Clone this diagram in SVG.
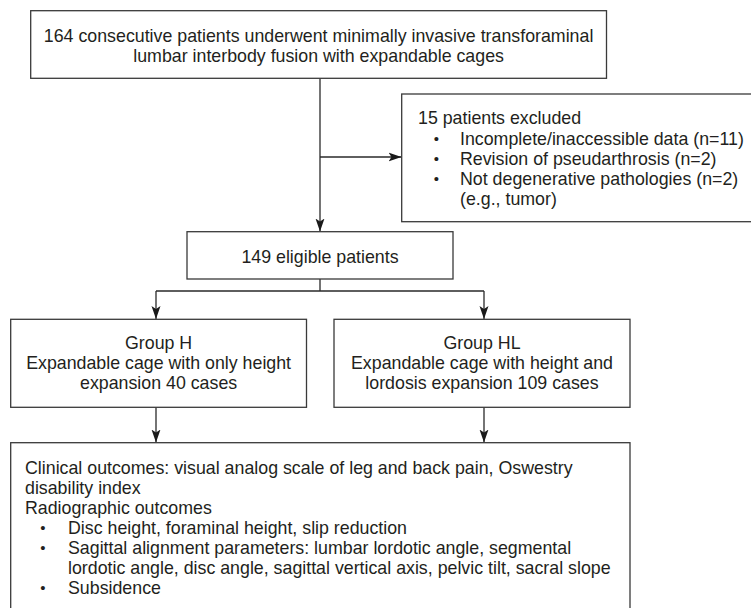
<svg xmlns="http://www.w3.org/2000/svg" width="751" height="608" viewBox="0 0 751 608">
<style>
.box{fill:#fff;stroke:#3a3a3a;stroke-width:1.3}
.t{font-family:"Liberation Sans",Arial,sans-serif;font-size:17.8px;fill:#231f20}
.c{text-anchor:middle}
.b{text-anchor:middle;font-size:15px}
.ln{fill:none;stroke:#2a2a2a;stroke-width:1.3}
</style>
<defs>
<marker id="ah" markerUnits="userSpaceOnUse" markerWidth="14" markerHeight="10" refX="13" refY="5" orient="auto">
<path d="M0,0.5 L13,5 L0,9.5 L3,5 Z" fill="#1a1a1a"/>
</marker>
</defs>
<rect width="751" height="608" fill="#fff"/>
<g id="connectors">
<path class="ln" d="M320,78.3 V231.5" marker-end="url(#ah)"/>
<path class="ln" d="M320,157 H401.5" marker-end="url(#ah)"/>
<path class="ln" d="M320,279 V291 M156,291 H484"/>
<path class="ln" d="M156,291 V319" marker-end="url(#ah)"/>
<path class="ln" d="M484,291 V319" marker-end="url(#ah)"/>
<path class="ln" d="M156,407 V442.5" marker-end="url(#ah)"/>
<path class="ln" d="M484,407 V442.5" marker-end="url(#ah)"/>
</g>
<g id="n1">
<rect class="box" x="30.7" y="10.7" width="575.8" height="67.6"/>
<text class="t c" x="318.6" y="42">164 consecutive patients underwent minimally invasive transforaminal</text>
<text class="t c" x="318.6" y="62">lumbar interbody fusion with expandable cages</text>
</g>
<g id="excluded">
<rect class="box" x="401.7" y="94" width="360" height="127.7"/>
<text class="t" x="418" y="124">15 patients excluded</text>
<text class="t b" x="436.5" y="144">•</text>
<text class="t" x="460" y="145">Incomplete/inaccessible data (n=11)</text>
<text class="t b" x="436.5" y="164">•</text>
<text class="t" x="460" y="165">Revision of pseudarthrosis (n=2)</text>
<text class="t b" x="436.5" y="184">•</text>
<text class="t" x="460" y="185">Not degenerative pathologies (n=2)</text>
<text class="t" x="460" y="205">(e.g., tumor)</text>
</g>
<g id="eligible">
<rect class="box" x="187" y="231.7" width="266" height="47.3"/>
<text class="t c" x="320" y="262.5">149 eligible patients</text>
</g>
<g id="groupH">
<rect class="box" x="10.7" y="319.3" width="295.8" height="88"/>
<text class="t c" x="158.6" y="349">Group H</text>
<text class="t c" x="158.6" y="369">Expandable cage with only height</text>
<text class="t c" x="158.6" y="389">expansion 40 cases</text>
</g>
<g id="groupHL">
<rect class="box" x="334" y="319.3" width="296" height="88"/>
<text class="t c" x="482" y="349">Group HL</text>
<text class="t c" x="482" y="369">Expandable cage with height and</text>
<text class="t c" x="482" y="389">lordosis expansion 109 cases</text>
</g>
<g id="outcomes">
<rect class="box" x="10.7" y="442.7" width="619.3" height="180"/>
<text class="t" x="25" y="473.5">Clinical outcomes: visual analog scale of leg and back pain, Oswestry</text>
<text class="t" x="25" y="493.5">disability index</text>
<text class="t" x="25" y="513.5">Radiographic outcomes</text>
<text class="t b" x="43" y="532.5">•</text>
<text class="t" x="68" y="533.5">Disc height, foraminal height, slip reduction</text>
<text class="t b" x="43" y="552.5">•</text>
<text class="t" x="68" y="553.5">Sagittal alignment parameters: lumbar lordotic angle, segmental</text>
<text class="t" x="68" y="573.5">lordotic angle, disc angle, sagittal vertical axis, pelvic tilt, sacral slope</text>
<text class="t b" x="43" y="592.5">•</text>
<text class="t" x="68" y="593.5">Subsidence</text>
</g>
</svg>
